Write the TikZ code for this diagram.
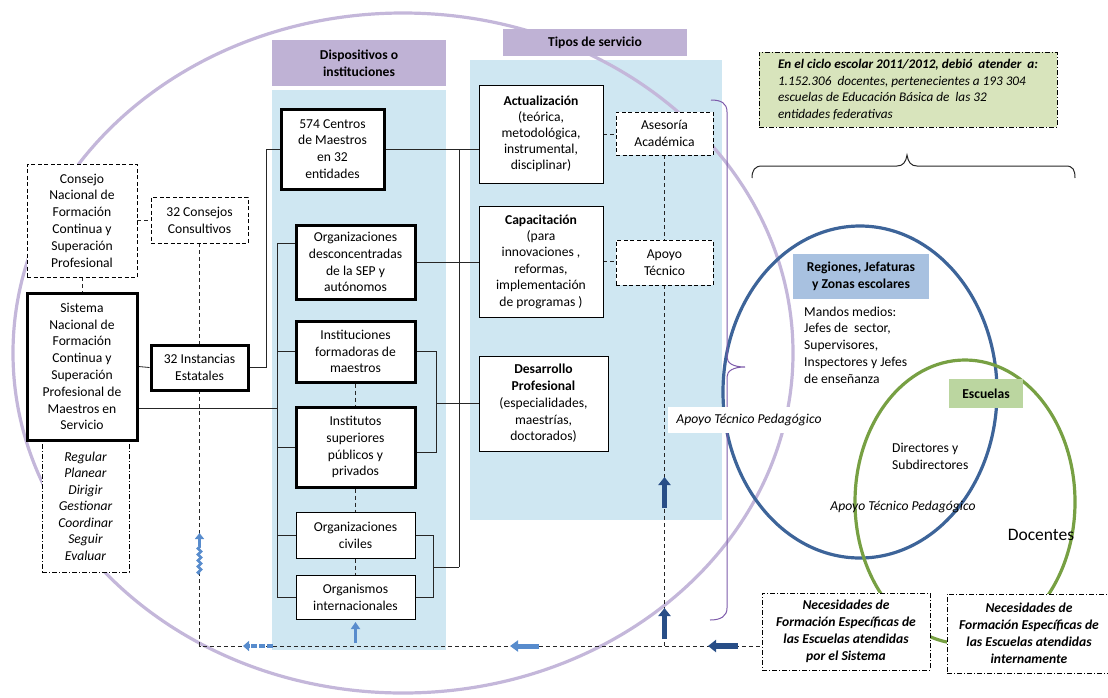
\documentclass[tikz,border=0pt]{standalone}
\usepackage{fontspec}
\setmainfont{Carlito}
\usetikzlibrary{arrows.meta,decorations.pathmorphing}
\definecolor{panel}{RGB}{207,231,242}
\definecolor{lavhead}{RGB}{191,178,213}
\definecolor{lavline}{RGB}{196,183,218}
\definecolor{ellblue}{RGB}{61,100,153}
\definecolor{ellgreen}{RGB}{119,160,67}
\definecolor{regfill}{RGB}{168,193,224}
\definecolor{escfill}{RGB}{187,214,160}
\definecolor{notefill}{RGB}{216,228,188}
\definecolor{bracepurple}{RGB}{125,90,170}
\definecolor{darkarrow}{RGB}{40,78,135}
\definecolor{lightarrow}{RGB}{88,140,205}
\newcommand\fsz{\fontsize{13.6}{16.8}\selectfont}
\pgfdeclarelayer{bg}
\pgfdeclarelayer{lines}
\pgfsetlayers{bg,lines,main}
\begin{document}
\begin{tikzpicture}[x=1pt,y=-1pt,
  base/.style={align=center, inner sep=0pt, font=\fsz},
  box/.style={base, draw, fill=white, line width=0.9pt},
  tbox/.style={base, draw, fill=white, line width=3pt},
  dbox/.style={base, draw, fill=white, line width=0.9pt, dash pattern=on 4pt off 2.5pt},
  ddbox/.style={base, draw, fill=white, line width=0.9pt, dash pattern=on 5pt off 2pt on 1pt off 2pt},
  conn/.style={line width=0.8pt, draw=black!85},
  dconn/.style={conn, dash pattern=on 4pt off 3pt},
  darkarr/.style={darkarrow, line width=5.5pt, -{Triangle[width=12pt,length=8pt]}},
  lightarr/.style={lightarrow, line width=5pt, -{Triangle[width=11pt,length=8pt]}},
  bracepath/.style={bracepurple, line width=1pt},
  ellline/.style={line width=3.2pt}
]
\useasboundingbox (0,0) rectangle (1108,697);

% ---------- background ----------
\begin{pgfonlayer}{bg}
\fill[panel] (272,90) rectangle (446,650);
\fill[panel] (470,60) rectangle (722,520);
\draw[lavline, ellline] (403,353) ellipse [x radius=390pt, y radius=340pt];
\node[base, fill=lavhead, minimum width=174pt, minimum height=46pt, font=\fsz\bfseries] (hdisp) at (359,63) {Dispositivos o\\instituciones};
\node[base, fill=lavhead, minimum width=184pt, minimum height=27pt, font=\fsz\bfseries] (htipos) at (595,42.5) {Tipos de servicio};
\draw[ellblue, ellline] (860,392) ellipse [x radius=137pt, y radius=166pt];
\draw[ellgreen, ellline] (965,502) ellipse [x radius=110pt, y radius=142pt];
\end{pgfonlayer}

% ---------- left column ----------
\node[dbox, minimum width=110pt, minimum height=113pt] (cons) at (82,220.5) {Consejo\\Nacional de\\Formación\\Continua y\\Superación\\Profesional};
\node[dbox, minimum width=97pt, minimum height=46pt] (consult) at (199.5,220) {32 Consejos\\Consultivos};
\node[ddbox, minimum width=87pt, minimum height=132pt, font=\fontsize{13.6}{16.5}\selectfont\itshape] (reg) at (85.5,506) {Regular\\Planear\\Dirigir\\Gestionar\\Coordinar\\Seguir\\Evaluar};
\node[tbox, minimum width=110pt, minimum height=147pt] (sist) at (82,366.5) {Sistema\\Nacional de\\Formación\\Continua y\\Superación\\Profesional de\\Maestros en\\Servicio};
\node[tbox, minimum width=97pt, minimum height=45pt] (inst) at (199.5,367.5) {32 Instancias\\Estatales};

% ---------- middle column ----------
\node[tbox, minimum width=103pt, minimum height=80pt] (cent) at (332.5,149) {574 Centros\\de Maestros\\en 32\\entidades};
\node[tbox, minimum width=119pt, minimum height=74pt] (desc) at (355.5,262) {Organizaciones\\desconcentradas\\de la SEP y\\autónomos};
\node[tbox, minimum width=119pt, minimum height=61pt] (form) at (355.5,351.5) {Instituciones\\formadoras de\\maestros};
\node[tbox, minimum width=119pt, minimum height=80pt] (isup) at (355.5,447) {Institutos\\superiores\\públicos y\\privados};
\node[box, minimum width=119pt, minimum height=46pt] (civ) at (355.5,535) {Organizaciones\\civiles};
\node[box, minimum width=119pt, minimum height=44pt] (orgi) at (355.5,597) {Organismos\\internacionales};

% ---------- tipos de servicio ----------
\node[box, minimum width=124pt, minimum height=98pt, font=\fontsize{13.6}{16}\selectfont] (act) at (541,134) {\textbf{Actualización}\\(teórica,\\metodológica,\\instrumental,\\disciplinar)};
\node[dbox, minimum width=97pt, minimum height=43pt] (ases) at (664.5,133.5) {Asesoría\\Académica};
\node[box, minimum width=124pt, minimum height=111pt, font=\fontsize{13.6}{16.4}\selectfont] (cap) at (541,261.5) {\textbf{Capacitación}\\(para\\innovaciones ,\\reformas,\\implementación\\de programas )};
\node[dbox, minimum width=97pt, minimum height=45pt] (apoyo) at (664.5,262.5) {Apoyo\\Técnico};
\node[box, minimum width=129pt, minimum height=95pt] (des) at (543.5,403.5) {\textbf{Desarrollo}\\\textbf{Profesional}\\(especialidades,\\maestrías,\\doctorados)};

% ---------- right side ----------
\node[ddbox, fill=notefill, align=left, minimum width=298pt, minimum height=75pt, font=\fontsize{13.2}{16.7}\selectfont\itshape] (note) at (908,89.5) {\textbf{En el ciclo escolar 2011/2012, debió\ \ atender\ \ a:}\\1.152.306\ \ docentes, pertenecientes a 193 304\\escuelas de Educación Básica de\ \ las 32\\entidades federativas};
\node[base, fill=regfill, minimum width=136pt, minimum height=45pt, font=\fsz\bfseries] (regn) at (861,276.5) {Regiones, Jefaturas\\y Zonas escolares};
\node[base, align=left, anchor=west] (mand) at (804,345) {Mandos medios:\\Jefes de\ \ sector,\\Supervisores,\\Inspectores y Jefes\\de enseñanza};
\node[base, fill=escfill, minimum width=74pt, minimum height=29pt, font=\fsz\bfseries] (esc) at (986,393.5) {Escuelas};
\node[base, align=left, anchor=west] (dir) at (892,456) {Directores y\\Subdirectores};
\node[base, font=\fsz\itshape] (atp2) at (903,507) {Apoyo Técnico Pedagógico};
\node[base, font=\fontsize{17.5}{20}\selectfont] (doc) at (1041,535) {Docentes};
\node[ddbox, minimum width=168pt, minimum height=77pt, font=\fontsize{13.6}{17}\selectfont\bfseries\itshape] (nec1) at (846,631.5) {Necesidades de\\Formación Específicas de\\las Escuelas atendidas\\por el Sistema};
\node[ddbox, minimum width=164pt, minimum height=79pt, font=\fontsize{13.6}{17}\selectfont\bfseries\itshape] (nec2) at (1029,633.5) {Necesidades de\\Formación Específicas de\\las Escuelas atendidas\\internamente};

% ---------- connectors ----------
\coordinate (bl) at (199.5,646);
\coordinate (bus) at (277,0);
\coordinate (bus2) at (459,0);
\coordinate (br1) at (436,0);
\coordinate (br2) at (433,0);
\coordinate (ysis) at (0,408);
\coordinate (ydesc) at (0,243);
\coordinate (yis) at (0,452);
\coordinate (ycv) at (0,567);
\begin{pgfonlayer}{lines}
\draw[dconn] (cons.east) -- (cons.east -| consult.west);
\draw[dconn] (cons.south) -- (sist.north);
\draw[dconn] (consult.south) -- (bl) -- (bl -| nec1.west);
\draw[conn] (sist.east) -- (inst.west);
\draw[conn] (inst.east) -- ++(17,0) |- (cent.west);
\draw[conn] (sist.east |- ysis) -- (bus |- ysis);
\draw[conn] (bus |- ydesc) -- (bus |- orgi.west);
\draw[conn] (bus |- ydesc) -- (desc.west |- ydesc);
\draw[conn] (bus |- form.west) -- (form.west);
\draw[conn] (bus |- isup.west) -- (isup.west);
\draw[conn] (bus |- civ.west) -- (civ.west);
\draw[conn] (bus |- orgi.west) -- (orgi.west);
\draw[conn] (cent.east) -- (cent.east -| act.west);
\draw[conn] (bus2 |- cent.east) -- (bus2 |- ycv);
\draw[conn] (desc.east) -- (desc.east -| cap.west);
\draw[conn] (form.east) -- (br1 |- form.east) -- (br1 |- yis) -- (isup.east |- yis);
\draw[conn] (br1 |- des.west) -- (des.west);
\draw[conn] (civ.east) -- (br2 |- civ.east) -- (br2 |- orgi.east) -- (orgi.east);
\draw[conn] (br2 |- ycv) -- (bus2 |- ycv);
\draw[dconn] (form.south) -- (orgi.north);
\draw[dconn] (act.east) -- (act.east -| ases.west);
\draw[dconn] (cap.east) -- (cap.east -| apoyo.west);
\draw[dconn] (ases.south) -- (apoyo.north);
\draw[dconn] (apoyo.south) -- (apoyo.south |- bl);
\end{pgfonlayer}

% ---------- arrows ----------
\draw[darkarr] (664.5,508) -- (664.5,477);
\draw[darkarr] (664.5,639) -- (664.5,608);
\draw[darkarr] (738,646) -- (708,646);
\draw[lightarr] (539,646) -- (510,646);
\draw[lightarrow, line width=3.5pt, -{Triangle[width=9pt,length=7pt]}] (355.5,643) -- (355.5,622);
\draw[lightarrow, line width=2.5pt, decorate, decoration={zigzag, amplitude=1.6pt, segment length=6pt}] (199.5,574) -- (199.5,545);
\draw[lightarrow, line width=2.5pt, -{Triangle[width=9pt,length=6pt]}] (199.5,546) -- (199.5,533);
\draw[lightarrow, line width=3.5pt, dash pattern=on 6pt off 2pt, -{Triangle[width=10pt,length=6pt]}] (273,646) -- (243,646);

% ---------- braces ----------
\draw[bracepath] (711,100) .. controls (721,100) and (727,103) .. (727,112) -- (727,357) .. controls (727,363) and (733,367) .. (745,367) .. controls (733,367) and (727,371) .. (727,377) -- (727,608) .. controls (727,616) and (721,620) .. (710,620);
\draw[line width=1pt, black!85] (752,178) .. controls (752,170) and (755,166) .. (762,166) -- (897,166) .. controls (903,166) and (906,162) .. (907,155) .. controls (908,162) and (911,166) .. (917,166) -- (1066,166) .. controls (1073,166) and (1075,170) .. (1075,178);

\node[base, fill=white, minimum width=162pt, minimum height=26pt, font=\fsz\itshape] (atp1) at (749,420) {Apoyo Técnico Pedagógico};
\end{tikzpicture}
\end{document}
